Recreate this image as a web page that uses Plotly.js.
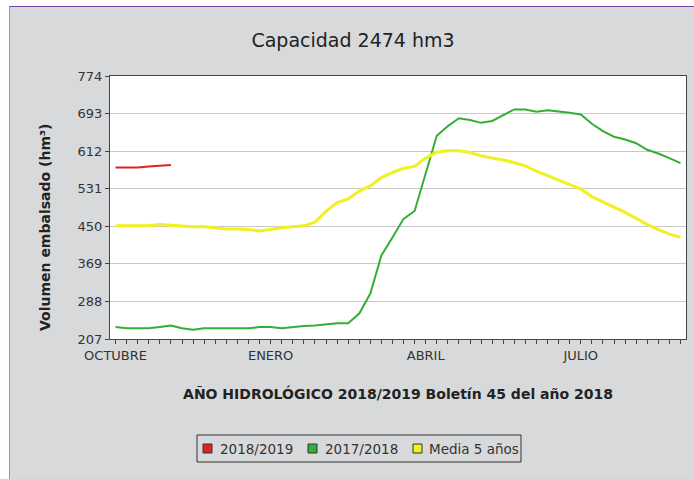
<!DOCTYPE html>
<html><head><meta charset="utf-8">
<script src="https://cdn.plot.ly/plotly-3.0.1.min.js"></script>
<style>
html,body{margin:0;padding:0;background:#fff;width:694px;height:479px;overflow:hidden;}
#frame{position:absolute;left:9px;top:6px;width:685px;height:473px;border-top:1px solid #7a3fa0;border-left:1px solid #9a9a9a;background:#d8d9db;}
#chart{position:absolute;left:1px;top:0px;width:684px;height:473px;}
</style></head>
<body><div id="frame"><div id="chart"></div></div>
<script>
const weeks = [0,1,2,3,4,5,6,7,8,9,10,11,12,13,14,15,16,17,18,19,20,21,22,23,24,25,26,27,28,29,30,31,32,33,34,35,36,37,38,39,40,41,42,43,44,45,46,47,48,49,50,51];
const monthLabels = {0:"OCTUBRE",14:"ENERO",28:"ABRIL",42:"JULIO"};
const yTicks = [207,288,369,450,531,612,693,774];
const s2018_2019 = [577,577,577,579,581,582];
const s2017_2018 = [233,230,230,230,233,236,230,227,230,230,230,230,230,233,233,230,233,235,236,238,241,241,262,305,387,426,466,483,564,645,666,683,679,673,677,690,702,702,697,700,698,695,691,671,655,643,637,629,615,607,597,586];
const media5 = [451,451,451,451,454,452,451,449,449,446,444,444,443,440,444,447,449,451,459,482,501,509,526,537,555,566,575,579,597,610,613,613,609,602,597,593,587,580,569,559,550,539,530,514,503,492,480,467,454,443,433,426];
const names = ["2018/2019","2017/2018","Media 5 años"];
const colors = ["#e02222","#33b033","#f0f022"];

const series = [s2018_2019, s2017_2018, media5];
const traces = series.map((vals,i)=>({
  x: weeks.slice(0, vals.length), y: vals, type:'scatter', mode:'lines', name: names[i],
  line:{color:colors[i], width: i===2?3:2}, showlegend:false, hoverinfo:'skip'}));

// page-pixel -> paper conversion for the legend box (plot area 110..686 x 76..339)
const PL = 110, PW = 576, PB = 339, PH = 263;
const px = a => (a - PL) / PW;
const py = a => (PB - a) / PH;

const font = "DejaVu Sans, sans-serif";
const shapes = [{type:'rect', xref:'paper', yref:'paper', x0:px(197), x1:px(521), y0:py(462), y1:py(435),
                 line:{color:'#333', width:1}, fillcolor:'rgba(0,0,0,0)'}];
const annotations = [];
const legSq = [203, 308, 413];
const legTx = [218, 323, 427];
names.forEach((n,i)=>{
  shapes.push({type:'rect', xref:'paper', yref:'paper', x0:px(legSq[i]), x1:px(legSq[i]+9),
               y0:py(453), y1:py(444), line:{color:'#333', width:1}, fillcolor:colors[i]});
  annotations.push({text:n, xref:'paper', yref:'paper', x:px(legTx[i]), y:py(448.5),
                    xanchor:'left', yanchor:'middle', showarrow:false,
                    font:{family:font, size:13.5, color:'#333'}});
});
annotations.push({text:'Volumen embalsado (hm³)', xref:'paper', yref:'paper', x:px(45), y:py(227),
                  xanchor:'center', yanchor:'middle', textangle:-90, showarrow:false,
                  font:{family:font, size:14, color:'#222', weight:'bold'}});

const layout = {
  width: 684, height: 473,
  paper_bgcolor: '#d8d9db', plot_bgcolor: '#ffffff',
  margin: {l: 99, r: 9, t: 69, b: 141},
  font: {family: font, size: 12, color: '#333'},
  title: {text: 'Capacidad 2474 hm3', font: {family: font, size: 19, color: '#222'},
          x: 0.5, xanchor: 'center', y: 1 - 33/473, yanchor: 'middle', yref: 'container'},
  xaxis: {range: [-0.5, 51.5], tickmode: 'array', tickvals: weeks,
          ticktext: weeks.map(w => monthLabels[w] || ''),
          ticks: 'outside', ticklen: 4, tickcolor: '#444', tickwidth: 1,
          showline: true, linecolor: '#444', linewidth: 1, mirror: true,
          showgrid: false, zeroline: false,
          tickfont: {family: font, size: 13, color: '#333'},
          title: {text: 'AÑO HIDROLÓGICO 2018/2019 Boletín 45 del año 2018',
                  font: {family: font, size: 14, color: '#222', weight: 'bold'}, standoff: 27}},
  yaxis: {range: [207, 774], tickmode: 'array', tickvals: yTicks,
          ticks: 'outside', ticklen: 4, tickcolor: '#444', tickwidth: 1,
          showline: true, linecolor: '#444', linewidth: 1, mirror: true,
          showgrid: true, gridcolor: '#c8c8c8', gridwidth: 1, zeroline: false,
          tickfont: {family: font, size: 13, color: '#333'}},
  shapes: shapes,
  annotations: annotations,
  showlegend: false
};
Plotly.newPlot('chart', traces, layout, {displayModeBar: false, staticPlot: true});
</script></body></html>
